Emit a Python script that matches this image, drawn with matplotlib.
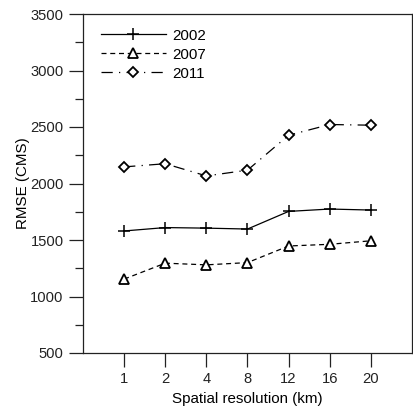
import matplotlib
matplotlib.use("Agg")
import matplotlib.pyplot as plt
from matplotlib.ticker import MultipleLocator

plt.rcParams['font.family'] = ['Liberation Sans', 'DejaVu Sans']

categories = ["1", "2", "4", "8", "12", "16", "20"]
rmse_2002 = [1580, 1610, 1605, 1597, 1753, 1774, 1765]
rmse_2007 = [1154, 1295, 1280, 1300, 1447, 1462, 1493]
rmse_2011 = [2147, 2175, 2067, 2118, 2427, 2522, 2516]

fig = plt.figure(figsize=(4.14, 4.18), dpi=100)
ax = fig.add_axes([83/414, 65/418, 329/414, 339/418])

x = list(range(1, len(categories) + 1))
ax.plot(x, rmse_2002, color='black', lw=0.9, linestyle='-', marker='+', ms=8,
        mew=1.1, label='2002')
ax.plot(x, rmse_2007, color='black', lw=0.9, linestyle=(0, (4, 3)), marker='^', ms=7,
        mfc='white', mew=1.3, label='2007')
ax.plot(x, rmse_2011, color='black', lw=0.9, linestyle=(0, (9, 5, 1, 5)), marker='D', ms=5.5,
        mfc='white', mew=1.3, label='2011')

ax.set_xlim(0, 8)
ax.set_ylim(500, 3500)
ax.set_xticks(x)
ax.set_xticklabels(categories)
ax.yaxis.set_major_locator(MultipleLocator(500))
ax.yaxis.set_minor_locator(MultipleLocator(250))
ax.tick_params(axis='both', which='major', direction='out', length=10, width=0.9,
               labelsize=10.6, pad=4, colors='#222222')
ax.tick_params(axis='y', which='minor', direction='out', length=6, width=0.9, colors='#222222')
ax.tick_params(top=False, right=False)
for s in ax.spines.values():
    s.set_linewidth(0.9)
    s.set_color('#222222')

ax.set_xlabel('Spatial resolution (km)', fontsize=10.9)
ax.set_ylabel('RMSE (CMS)', fontsize=10.9, labelpad=0)

ax.legend(loc='upper left', frameon=False, fontsize=10.9, handlelength=4.3,
          handletextpad=0.45, labelspacing=0.33, borderaxespad=0.0,
          bbox_to_anchor=(0.035, 0.975))

fig.savefig('out.png', dpi=100)
